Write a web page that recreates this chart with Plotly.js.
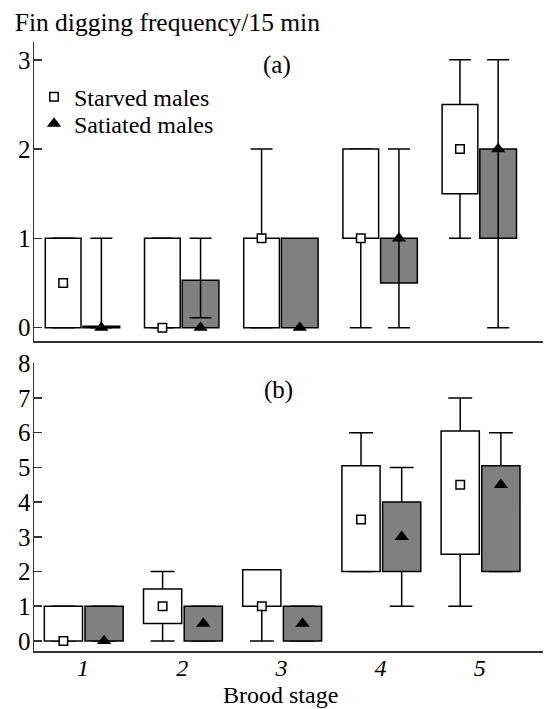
<!DOCTYPE html>
<html>
<head>
<meta charset="utf-8">
<script src="https://cdn.plot.ly/plotly-3.0.1.min.js"></script>
<style>html,body{margin:0;padding:0;background:#fff;}#chart{width:545px;height:709px;}</style>
</head>
<body>
<div id="chart"></div>
<script>
// ---- data ----
const stages = [1, 2, 3, 4, 5];
const stageLabels = ['1', '2', '3', '4', '5'];

// Panel (a)
const aStarvedQ1 = [0, 0, 0, 1, 1.5];
const aStarvedQ3 = [1, 1, 1, 2, 2.5];
const aStarvedMed = [0.5, 0, 1, 1, 2];
const aStarvedLo = [0, 0, 0, 0, 1];
const aStarvedHi = [1, 1, 2, 2, 3];

const aSatQ1 = [0, 0, 0, 0.5, 1];
const aSatQ3 = [0.015, 0.53, 1, 1, 2];
const aSatMed = [0, 0, 0, 1, 2];
const aSatLo = [0, 0.11, null, 0, 0];
const aSatHi = [1, 1, null, 2, 3];

// Panel (b)
const bStarvedQ1 = [0, 0.5, 1, 2, 2.5];
const bStarvedQ3 = [1, 1.5, 2.05, 5.05, 6.05];
const bStarvedMed = [0, 1, 1, 3.5, 4.5];
const bStarvedLo = [0, 0, 0, 2, 1];
const bStarvedHi = [1, 2, 1, 6, 7];

const bSatQ1 = [0, 0, 0, 2, 2];
const bSatQ3 = [1, 1, 1, 4, 5.05];
const bSatMed = [0, 0.5, 0.5, 3, 4.5];
const bSatLo = [0, 0, 0, 1, 2];
const bSatHi = [1, 1, 1, 5, 6];

// ---- styling / geometry ----
const FONT = 'Liberation Serif, Times New Roman, serif';
const FS = 25;
const GRAY = '#808080';
const AX = '#333333';
const geomA = {s: {off: -0.38, w: 0.36}, t: {off: 0.0, w: 0.37}};
const geomB = {s: {off: -0.39, w: 0.385}, t: {off: 0.02, w: 0.385}};

const diff = (hi, lo) => hi.map((v, i) => (v == null || lo[i] == null) ? null : v - lo[i]);

function boxTrace(q1, q3, g, fill, xa, ya) {
  return {
    type: 'bar', x: stages, base: q1, y: diff(q3, q1),
    offset: g.off, width: g.w, xaxis: xa, yaxis: ya,
    marker: {color: fill, line: {color: '#000', width: 1.5}},
    showlegend: false, hoverinfo: 'skip'
  };
}
function whiskerTrace(lo, hi, g, cap, xa, ya) {
  return {
    type: 'bar', x: stages, y: lo,
    offset: g.off, width: g.w, xaxis: xa, yaxis: ya,
    marker: {color: 'rgba(0,0,0,0)', line: {width: 0}},
    error_y: {type: 'data', symmetric: false, array: diff(hi, lo),
              arrayminus: lo.map(v => v == null ? null : 0),
              color: '#000', thickness: 1.5, width: cap},
    showlegend: false, hoverinfo: 'skip'
  };
}
function medTrace(med, g, sym, name, xa, ya, legendId) {
  const t = {
    type: 'scatter', mode: 'markers', name: name,
    x: stages.map(s => s + g.off + g.w / 2), y: med,
    xaxis: xa, yaxis: ya, showlegend: !!legendId, hoverinfo: 'skip', cliponaxis: false,
    marker: sym === 'sq'
      ? {symbol: 'square', size: 8.5, color: '#fff', line: {color: '#000', width: 1.5}}
      : {symbol: 'triangle-up', size: 12.5, color: '#000', line: {width: 0}}
  };
  if (legendId) t.legend = legendId;
  return t;
}

const traces = [
  // panel (a): starved whisker behind box, satiated whisker in front
  whiskerTrace(aStarvedLo, aStarvedHi, geomA.s, 11, 'x', 'y'),
  boxTrace(aStarvedQ1, aStarvedQ3, geomA.s, '#fff', 'x', 'y'),
  boxTrace(aSatQ1, aSatQ3, geomA.t, GRAY, 'x', 'y'),
  whiskerTrace(aSatLo, aSatHi, geomA.t, 11, 'x', 'y'),
  // panel (b): whiskers behind boxes
  whiskerTrace(bStarvedLo, bStarvedHi, geomB.s, 12, 'x2', 'y2'),
  whiskerTrace(bSatLo, bSatHi, geomB.t, 12, 'x2', 'y2'),
  boxTrace(bStarvedQ1, bStarvedQ3, geomB.s, '#fff', 'x2', 'y2'),
  boxTrace(bSatQ1, bSatQ3, geomB.t, GRAY, 'x2', 'y2'),
  // medians
  medTrace(aStarvedMed, geomA.s, 'sq', 'Starved males', 'x', 'y', 'legend'),
  medTrace(aSatMed, geomA.t, 'tri', 'Satiated males', 'x', 'y', 'legend2'),
  medTrace(bStarvedMed, geomB.s, 'sq', 'Starved males', 'x2', 'y2', null),
  medTrace(bSatMed, geomB.t, 'tri', 'Satiated males', 'x2', 'y2', null)
];

const xr = [0.506, 5.637];
const yAxisCommon = {
  showline: true, linecolor: AX, linewidth: 1.5, ticks: 'inside', ticklen: 8,
  tickcolor: AX, tickwidth: 1.5, showgrid: false, zeroline: false, ticklabelstandoff: -3,
  tickfont: {family: FONT, size: FS, color: '#000'}, fixedrange: true
};
const legendCommon = {x: 0.0, xanchor: 'left', yanchor: 'middle', bgcolor: 'rgba(0,0,0,0)',
                      font: {family: FONT, size: 24, color: '#000'}};
const layout = {
  width: 545, height: 709,
  margin: {l: 34, r: 2, t: 42, b: 58},
  paper_bgcolor: '#fff', plot_bgcolor: '#fff',
  barmode: 'overlay', showlegend: true,
  font: {family: FONT, color: '#000', size: FS},
  title: {text: 'Fin digging frequency/15 min', x: 0.027, xanchor: 'left', xref: 'container',
          y: 0.969, yanchor: 'middle', yref: 'container', font: {family: FONT, size: 25.5, color: '#000'}},
  legend: Object.assign({}, legendCommon, {y: 0.9095}),
  legend2: Object.assign({}, legendCommon, {y: 0.8655}),
  xaxis: {domain: [0, 1], anchor: 'y', range: xr, showline: true, linecolor: AX, linewidth: 1.5,
          showticklabels: false, ticks: '', showgrid: false, zeroline: false},
  yaxis: Object.assign({}, yAxisCommon, {domain: [0.509, 1], anchor: 'x', range: [-0.15, 3.2],
          tickvals: [0, 1, 2, 3]}),
  xaxis2: {domain: [0, 1], anchor: 'y2', range: xr, showline: true, linecolor: AX, linewidth: 1.5,
           ticks: '', showgrid: false, zeroline: false, ticklabelstandoff: -5,
           tickvals: stages, ticktext: stageLabels.map(s => '<i>' + s + '</i>'),
           tickfont: {family: FONT, size: 24, color: '#000'}},
  yaxis2: Object.assign({}, yAxisCommon, {domain: [0, 0.4724], anchor: 'x2', range: [-0.29, 8.0],
          tickvals: [0, 1, 2, 3, 4, 5, 6, 7, 8]}),
  annotations: [
    {text: '(a)', xref: 'x', yref: 'y', x: 2.96, y: 2.94, showarrow: false,
     font: {family: FONT, size: FS, color: '#000'}},
    {text: '(b)', xref: 'x2', yref: 'y2', x: 2.97, y: 7.22, showarrow: false,
     font: {family: FONT, size: FS, color: '#000'}},
    {text: 'Brood stage', xref: 'x2', yref: 'paper', x: 2.99, y: -0.0716, yanchor: 'middle',
     showarrow: false, borderpad: 0, font: {family: FONT, size: 24, color: '#000'}}
  ]
};

Plotly.newPlot('chart', traces, layout, {staticPlot: true, displayModeBar: false});
</script>
</body>
</html>
